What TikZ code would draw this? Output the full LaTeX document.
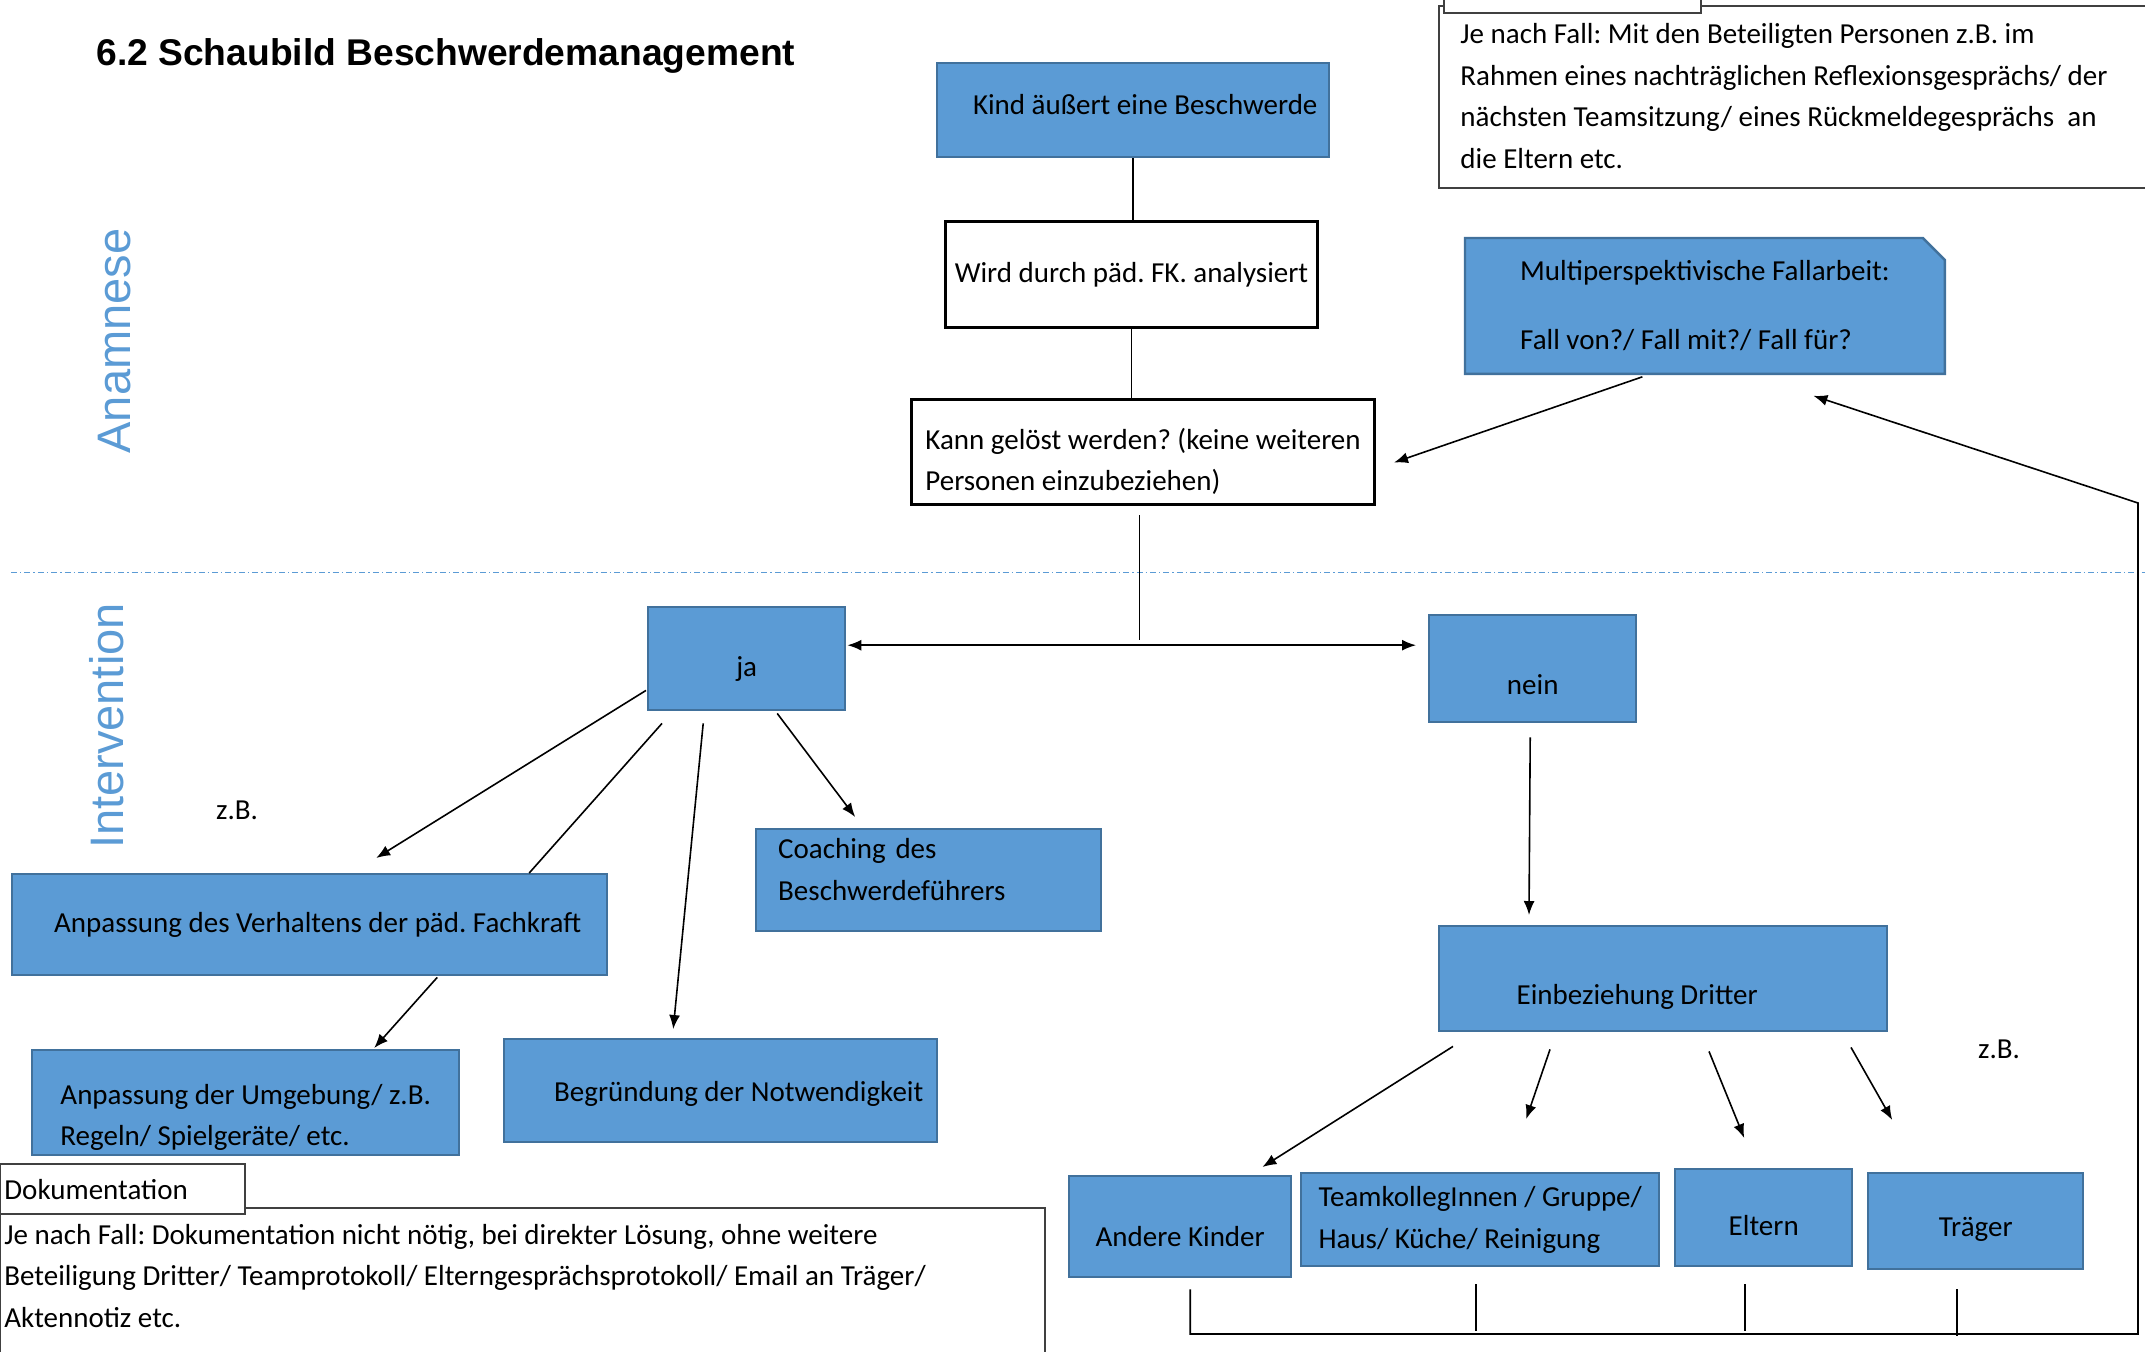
\documentclass[tikz,border=0pt]{standalone}
\usepackage{fontspec}
\setmainfont{Carlito}
\newfontfamily\arialfont{Liberation Sans}
\usetikzlibrary{arrows.meta,calc,backgrounds}
\frenchspacing

\definecolor{boxblue}{HTML}{5B9BD5}
\definecolor{boxedge}{HTML}{41719C}
\definecolor{notegray}{HTML}{404040}

\tikzset{
  bluebox/.style={draw=boxedge, fill=boxblue, line width=1.2pt, anchor=north west, inner sep=2pt},
  whitebox/.style={draw=black, fill=white, line width=1.5pt, anchor=north west, inner sep=2pt},
  notebox/.style={draw=notegray, fill=white, line width=0.8pt, anchor=north west, inner sep=0pt},
  arr/.style={->, line width=0.8pt},
  conn/.style={line width=0.8pt},
  sidelabel/.style={font=\arialfont\fontsize{23.5}{26}\selectfont, text=boxblue, rotate=90},
  lowered/.style={text height=#1},
}

\begin{document}
\begin{tikzpicture}[x=0.5pt,y=-0.5pt,>={Latex[length=7pt,width=5.5pt]},
  font=\fontsize{14.5}{20.85}\selectfont]
  \useasboundingbox (0,0) rectangle (2145,1351);

  % Titel und Phasen
  \node[anchor=west, inner sep=0pt, font=\arialfont\bfseries\fontsize{18.6}{22}\selectfont] (titel) at (96,56) {6.2 Schaubild Beschwerdemanagement};
  \node[sidelabel] (anamnese) at (115,341) {Anamnese};
  \node[sidelabel] (intervention) at (107,726) {Intervention};
  \coordinate (trennl) at (11,572);
  \coordinate (trennr) at (2145,572);
  \draw[boxblue, line width=0.5pt, dash pattern=on 3pt off 1.5pt on 0.7pt off 1.5pt] (trennl) -- (trennr);

  % Anamnese
  \node[bluebox, minimum width=196pt, minimum height=47pt, text depth=6pt] (kind) at (936,62) {\hspace*{12pt}Kind äußert eine Beschwerde};
  \node[whitebox, minimum width=186pt, minimum height=53pt] (wird) at (944,220) {Wird durch päd. FK. analysiert};
  \node[whitebox, minimum width=231.5pt, minimum height=52.5pt, align=left] (kann) at (910,398) {\rule{0pt}{20pt}Kann gelöst werden? (keine weiteren\\Personen einzubeziehen)};
  \draw[conn] (kind.south) -- (kind.south |- wird.north);
  \draw[conn] (wird.south) -- (wird.south |- kann.north);

  % Fallarbeit
  \node[anchor=north west, minimum width=239.5pt, minimum height=67.5pt, align=left] (multi) at (1465,238) {Multiperspektivische Fallarbeit:\\[13.6pt]Fall von?/ Fall mit?/ Fall für?};
  \begin{scope}[on background layer]
    \draw[boxedge, fill=boxblue, line width=1.2pt] (multi.south west) -- (multi.north west) -- ($(multi.north east)+(-22,0)$) -- ($(multi.north east)+(0,22)$) -- (multi.south east) -- cycle;
  \end{scope}

  % Notiz oben rechts
  \node[notebox, minimum width=361pt, minimum height=91pt] (fallbox) at (1438,5) {};
  \node[notebox, minimum width=128.5pt, minimum height=15pt] (falltab) at (1443,-18) {};
  \node[anchor=west, align=left, inner sep=0pt] (falltext) at (1460,96) {Je nach Fall: Mit den Beteiligten Personen z.B. im\\Rahmen eines nachträglichen Reflexionsgesprächs/ der\\nächsten Teamsitzung/ eines Rückmeldegesprächs~ an\\die Eltern etc.};

  % Verzweigung
  \node[bluebox, minimum width=98.5pt, minimum height=51.5pt, lowered=20pt] (ja) at (647,606) {ja};
  \node[bluebox, minimum width=103.5pt, minimum height=53.5pt, lowered=25.6pt] (nein) at (1428,614) {nein};
  \draw[conn] ($(kann.south)+(-3.5,9)$) -- ($(kann.south)+(-3.5,134)$);
  \draw[<->, line width=0.8pt] ($(ja.east)+(1,-13.5)$) -- ($(nein.west)+(-12,-23.5)$);
  \draw[arr] ($(multi.south)+(-62.5,3)$) -- ($(kann.east)+(18,10.5)$);

  % ja-Zweig
  \node[bluebox, minimum width=297.5pt, minimum height=50.5pt] (anpv) at (11,873) {\hspace*{8pt}Anpassung des Verhaltens der päd. Fachkraft};
  \node[bluebox, minimum width=172.5pt, minimum height=51pt, text width=150.5pt, inner xsep=11pt, align=left] (coach) at (755,828) {Coaching des\\Beschwerdeführers\rule[-11pt]{0pt}{0pt}};
  \node[bluebox, minimum width=213.5pt, minimum height=50.5pt, align=left] (anpu) at (31,1049) {\rule{0pt}{25pt}Anpassung der Umgebung/ z.B.\\Regeln/ Spielgeräte/ etc.};
  \node[bluebox, minimum width=216.5pt, minimum height=51.5pt, lowered=13pt] (begr) at (503,1038) {\hspace*{18pt}Begründung der Notwendigkeit};
  \node (zb1) at (237,810) {z.B.};
  \draw[arr] ($(ja.south west)+(-1,-21)$) -- ($(anpv.north)+(66.5,-15)$);
  \draw[conn] ($(ja.south west)+(15,12)$) -- ($(anpv.north)+(219.5,0)$);
  \draw[arr] ($(anpv.south)+(127.5,1)$) -- ($(anpu.north)+(128.5,-1)$);
  \draw[arr] ($(ja.south)+(-43.5,12)$) -- ($(begr.north)+(-47.5,-9)$);
  \draw[arr] ($(ja.south)+(30.5,2)$) -- ($(coach.north)+(-73.5,-11)$);

  % nein-Zweig
  \node[bluebox, minimum width=224pt, minimum height=52.5pt, lowered=28pt] (einb) at (1438,925) {\hspace*{-26pt}Einbeziehung Dritter};
  \draw[arr] ($(nein.south)+(-2.5,14)$) -- ($(einb.north west)+(91,-10)$);
  \node (zb2) at (1999,1049) {z.B.};
  \node[bluebox, minimum width=111pt, minimum height=50.5pt, lowered=19.6pt] (andere) at (1068,1175) {Andere Kinder};
  \node[bluebox, minimum width=179pt, minimum height=46.5pt, align=left] (team) at (1300,1172) {TeamkollegInnen / Gruppe/\\Haus/ Küche/ Reinigung};
  \node[bluebox, minimum width=88.5pt, minimum height=48.5pt, lowered=17.6pt] (eltern) at (1674,1168) {Eltern};
  \node[bluebox, minimum width=107.5pt, minimum height=48pt, lowered=17.6pt] (traeger) at (1867,1172) {Träger};
  \draw[arr] ($(einb.south west)+(15,14)$) -- ($(andere.north east)+(-30,-8)$);
  \draw[arr] ($(einb.south west)+(112,17)$) -- ($(team.north)+(46,-53)$);
  \draw[arr] ($(einb.south west)+(271,19)$) -- ($(eltern.north)+(-19.5,-30)$);
  \draw[arr] ($(einb.south west)+(413,15)$) -- ($(traeger.north)+(-83.5,-52)$);

  % Rueckfuehrung zur Fallarbeit
  \coordinate (eckeunten) at (2138,1334);
  \coordinate (eckeoben) at (2138,503);
  \draw[arr] ($(andere.south)+(10,11)$) |- (eckeunten) -- (eckeoben) -- ($(multi.south)+(108.5,22)$);
  \draw[conn] ($(team.south)+(-4,17)$) -- ++(0,47);
  \draw[conn] ($(eltern.south)+(-18.5,17)$) -- ++(0,47);
  \draw[conn] ($(traeger.south)+(-18.5,19)$) -- ++(0,47);

  % Dokumentation
  \node[notebox, minimum width=522.5pt, minimum height=80pt] (dokubox) at (-1,1207) {};
  \node[notebox, minimum width=122.5pt, minimum height=25pt] (dokutab) at (-1,1163) {};
  \node[anchor=west, inner sep=0pt] (dokutitel) at (4,1190) {Dokumentation};
  \node[anchor=west, align=left, inner sep=0pt] (dokutext) at (4,1276) {Je nach Fall: Dokumentation nicht nötig, bei direkter Lösung, ohne weitere\\Beteiligung Dritter/ Teamprotokoll/ Elterngesprächsprotokoll/ Email an Träger/\\Aktennotiz etc.};
\end{tikzpicture}
\end{document}
